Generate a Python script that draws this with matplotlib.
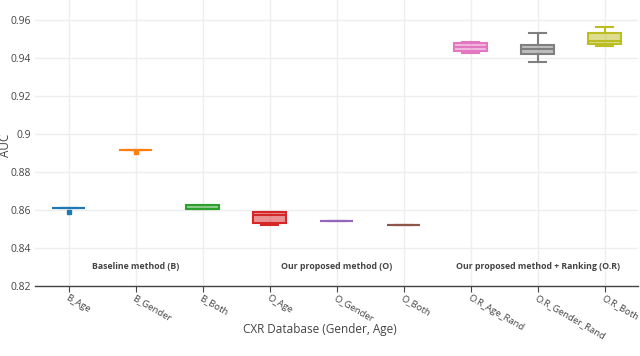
import matplotlib
matplotlib.use("Agg")
import matplotlib.pyplot as plt

categories = ["B_Age", "B_Gender", "B_Both", "O_Age", "O_Gender", "O_Both",
              "O.R_Age_Rand", "O.R_Gender_Rand", "O.R_Both"]
b_age = [0.861, 0.861, 0.861, 0.861, 0.859]
b_gender = [0.8914, 0.8914, 0.8914, 0.8914, 0.8905]
b_both = [0.8605, 0.8605, 0.8605, 0.8625, 0.8625]
o_age = [0.8521, 0.8533, 0.8575, 0.8588, 0.8588]
o_gender = [0.8544, 0.8544, 0.8544, 0.8544, 0.8544]
o_both = [0.8523, 0.8523, 0.8523, 0.8523, 0.8523]
or_age = [0.9428, 0.9438, 0.9458, 0.9477, 0.9486]
or_gender = [0.9379, 0.9421, 0.9446, 0.9468, 0.9530]
or_both = [0.9465, 0.9474, 0.9491, 0.9530, 0.9565]
series = [b_age, b_gender, b_both, o_age, o_gender, o_both, or_age, or_gender, or_both]
colors = ["#1f77b4", "#ff7f0e", "#2ca02c", "#d62728", "#9467bd", "#8c564b",
          "#e377c2", "#7f7f7f", "#bcbd22"]
groups = ["Baseline method (B)", "Our proposed method (O)", "Our proposed method + Ranking (O.R)"]
group_pos = [1, 4, 7]
yticks = [0.82, 0.84, 0.86, 0.88, 0.9, 0.92, 0.94, 0.96]
ytick_labels = ["0.82", "0.84", "0.86", "0.88", "0.9", "0.92", "0.94", "0.96"]

plt.rcParams['font.family'] = ['Open Sans', 'DejaVu Sans']
fig = plt.figure(figsize=(6.4, 3.56), dpi=100)
ax = fig.add_axes([35/640, 1 - 286/356, 603/640, 286/356])

for i, (vals, c) in enumerate(zip(series, colors)):
    ax.boxplot([vals], positions=[i], widths=0.5, patch_artist=True,
               whis=1.5,
               boxprops=dict(facecolor=matplotlib.colors.to_rgba(c, 0.5), edgecolor=c, linewidth=1.5),
               medianprops=dict(color=c, linewidth=1.5),
               whiskerprops=dict(color=c, linewidth=1.5),
               capprops=dict(color=c, linewidth=1.5),
               capwidths=0.25,
               flierprops=dict(marker='s', markersize=3, markerfacecolor=c, markeredgecolor=c),
               zorder=3)

for g, p in zip(groups, group_pos):
    ax.text(p, 0.830, g, ha='center', va='center', fontsize=6.3, fontweight='bold', color='#444444')

ax.set_xlim(-0.5, 8.5)
ax.set_ylim(0.82, 0.9705)
ax.set_xticks(range(len(categories)))
ax.set_xticklabels(categories, rotation=-30, ha='left', rotation_mode='anchor', fontsize=6.8, color='#444444')
ax.set_yticks(yticks)
ax.set_yticklabels(ytick_labels, fontsize=7.5, color='#444444')
ax.grid(True, color='#eeeeee', linewidth=1, zorder=0)
ax.set_axisbelow(True)
for s in ['top', 'right', 'left']:
    ax.spines[s].set_visible(False)
ax.spines['bottom'].set_color('#444444')
ax.spines['bottom'].set_linewidth(1)
ax.tick_params(axis='y', length=0, pad=3)
ax.tick_params(axis='x', length=4, color='#444444', pad=1.5)
ax.set_xlabel("CXR Database (Gender, Age)", fontsize=8.5, color='#444444')
ax.xaxis.set_label_coords((320 - 35) / 603, -0.128)
ax.set_ylabel("AUC", fontsize=8.5, color='#444444')
ax.yaxis.set_label_coords(-0.038, (286 - 145) / 286)

fig.savefig("out.png", dpi=100)
